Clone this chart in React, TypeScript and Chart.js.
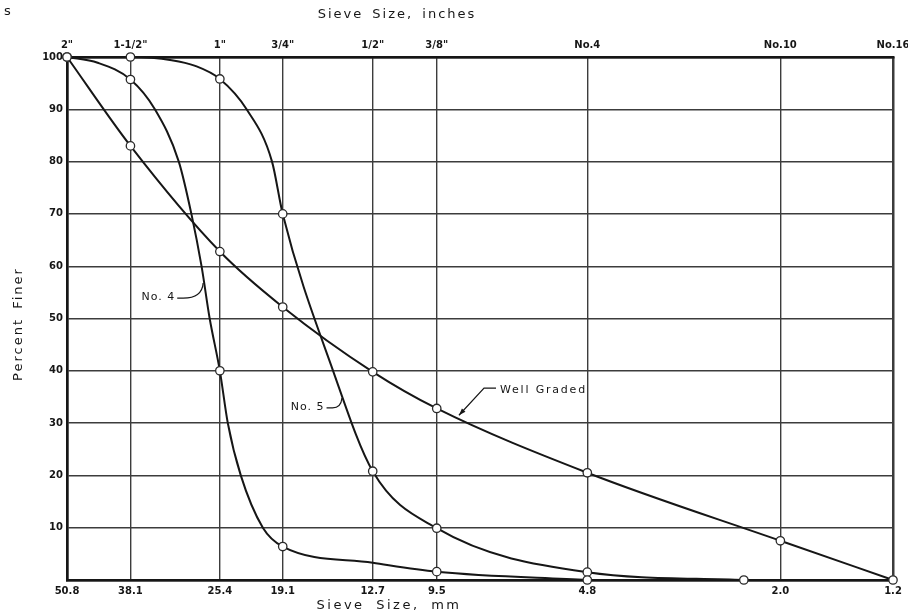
import React, { useEffect, useRef } from 'react';
import { Chart, registerables } from 'chart.js';

Chart.register(...registerables);

// Sieve openings (mm) that carry grid lines, with their two label sets
const sieveMm = [50.8, 38.1, 25.4, 19.1, 12.7, 9.5, 4.8, 2.0, 1.2];
const mmLabels = ['50.8', '38.1', '25.4', '19.1', '12.7', '9.5', '4.8', '2.0', '1.2'];
const inchLabels = ['2"', '1-1/2"', '1"', '3/4"', '1/2"', '3/8"', 'No.4', 'No.10', 'No.16'];
const percentMin = 0;
const percentMax = 100;
const percentStep = 10;

// Well Graded curve (all points measured)
const wellSize = [50.8, 38.1, 25.4, 19.1, 12.7, 9.5, 4.8, 2.0, 1.2];
const wellPct = [100, 83, 62.8, 52.2, 39.8, 32.8, 20.5, 7.5, 0];
const wellMeasured = [1, 1, 1, 1, 1, 1, 1, 1, 1];

const no4Size = [50.8, 44.2, 38.1, 34.1, 30.6, 28.9, 27.6, 26.6, 25.4, 24.5, 23.1, 20.9, 19.1, 12.7, 9.5, 4.8];
const no4Pct = [100, 98.9, 95.7, 90, 80, 70, 60, 50, 40, 30, 20, 10, 6.4, 3.3, 1.6, 0];
const no4Measured = [1, 0, 1, 0, 0, 0, 0, 0, 1, 0, 0, 0, 1, 0, 1, 1];

// No. 5 curve
const no5Size = [50.8, 38.1, 31.6, 28.4, 25.4, 22.5, 20.05, 19.1, 15.2, 12.7, 9.5, 4.8, 2.36];
const no5Pct = [100, 100, 99.4, 98.3, 95.8, 90, 80, 70, 40, 20.8, 9.9, 1.5, 0];
const no5Measured = [0, 1, 0, 0, 1, 0, 0, 1, 0, 1, 1, 1, 1];

// Curve labels: text anchor (size mm, percent) and the point on the curve the leader reaches
const noteText = ['No. 4', 'No. 5', 'Well Graded'];
const noteSize = [31.1, 15.8, 7.13];
const notePct = [54.1, 33.1, 36.3];
const noteToSize = [27.4, 14.6, 8.59];
const noteToPct = [56.8, 34.8, 31.5];
const noteSide = ['right', 'right', 'left'];

const FONT = '"DejaVu Sans", sans-serif';
const INK = '#161616';

function series(sizes: number[], pcts: number[], measured: number[]) {
  return {
    data: sizes.map((s, i) => ({ x: s, y: pcts[i] })),
    borderColor: INK,
    borderWidth: 2,
    backgroundColor: '#ffffff',
    pointBackgroundColor: '#ffffff',
    pointBorderColor: '#2a2a2a',
    pointBorderWidth: 1.3,
    pointRadius: measured.map((m) => (m ? 4.2 : 0)),
    pointHoverRadius: measured.map((m) => (m ? 4.2 : 0)),
    cubicInterpolationMode: 'monotone' as const,
    fill: false,
    clip: false as any,
  };
}

const textPlugin = {
  id: 'sieveText',
  afterDatasetsDraw(chart: any) {
    const { ctx } = chart;
    const x = chart.scales.x;
    const y = chart.scales.y;
    ctx.save();
    ctx.fillStyle = INK;
    ctx.strokeStyle = INK;
    ctx.lineWidth = 1.2;
    ctx.textBaseline = 'middle';
    noteText.forEach((t, i) => {
      const ax = x.getPixelForValue(noteSize[i]);
      const ay = y.getPixelForValue(notePct[i]);
      const ex = x.getPixelForValue(noteToSize[i]);
      const ey = y.getPixelForValue(noteToPct[i]);
      if (noteSide[i] === 'right') {
        ctx.font = `11px ${FONT}`;
        (ctx as any).letterSpacing = '1px';
        ctx.textAlign = 'right';
        ctx.fillText(t, ax, ay);
        const sx = ax + 2;
        ctx.beginPath();
        ctx.moveTo(sx, ay + 1);
        ctx.lineTo(sx + 6, ay + 1);
        ctx.quadraticCurveTo(ex - 1, ay + 1, ex, ey);
        ctx.stroke();
      } else {
        ctx.font = `11px ${FONT}`;
        (ctx as any).letterSpacing = '1.8px';
        ctx.textAlign = 'left';
        ctx.fillText(t, ax, ay);
        const sx = ax - 4;
        const ly = ay - 2;
        ctx.beginPath();
        ctx.moveTo(sx, ly);
        ctx.lineTo(sx - 12, ly);
        ctx.lineTo(ex, ey);
        ctx.stroke();
        const ang = Math.atan2(ey - ly, ex - (sx - 12));
        const len = 7;
        const hw = 2.4;
        ctx.beginPath();
        ctx.moveTo(ex, ey);
        ctx.lineTo(ex - len * Math.cos(ang) + hw * Math.sin(ang), ey - len * Math.sin(ang) - hw * Math.cos(ang));
        ctx.lineTo(ex - len * Math.cos(ang) - hw * Math.sin(ang), ey - len * Math.sin(ang) + hw * Math.cos(ang));
        ctx.closePath();
        ctx.fill();
      }
    });
    ctx.restore();
  },
  afterDraw(chart: any) {
    const { ctx } = chart;
    ctx.save();
    ctx.fillStyle = INK;
    ctx.textBaseline = 'middle';
    ctx.textAlign = 'center';
    ctx.font = `13px ${FONT}`;
    (ctx as any).letterSpacing = '2px';
    (ctx as any).wordSpacing = '3px';
    ctx.fillText('Sieve Size, inches', 397, 15);
    (ctx as any).letterSpacing = '2.5px';
    (ctx as any).wordSpacing = '5px';
    ctx.fillText('Sieve Size, mm', 389, 606);
    (ctx as any).letterSpacing = '2px';
    (ctx as any).wordSpacing = '3px';
    ctx.save();
    ctx.translate(19, 324);
    ctx.rotate(-Math.PI / 2);
    ctx.fillText('Percent Finer', 0, 0);
    ctx.restore();
    (ctx as any).letterSpacing = '0px';
    ctx.textAlign = 'left';
    ctx.fillText('s', 4, 12);
    ctx.restore();
  },
};

const tickFont = { family: FONT, size: 10, weight: 'bold' as const };

function sieveAxis(position: 'top' | 'bottom', labels: string[], height: number, showGrid: boolean) {
  return {
    type: 'logarithmic' as const,
    position,
    reverse: true,
    min: sieveMm[sieveMm.length - 1],
    max: sieveMm[0],
    afterBuildTicks(scale: any) {
      scale.ticks = sieveMm.map((v) => ({ value: v }));
    },
    afterFit(scale: any) {
      scale.height = height;
      scale.paddingLeft = 0;
      scale.paddingRight = 0;
    },
    ticks: {
      autoSkip: false,
      maxRotation: 0,
      minRotation: 0,
      padding: position === 'top' ? 6 : 5,
      color: INK,
      font: tickFont,
      callback: (_v: any, i: number) => labels[i],
    },
    grid: {
      display: showGrid,
      drawTicks: false,
      color: '#3c3c3c',
      lineWidth: (c: any) => (c.index === 0 || c.index === sieveMm.length - 1 ? 2.5 : 1.4),
    },
    border: { display: true, color: INK, width: 2.5 },
  };
}

export default function App() {
  const ref = useRef<HTMLCanvasElement>(null);
  useEffect(() => {
    const chart = new Chart(ref.current as HTMLCanvasElement, {
      type: 'line',
      data: {
        datasets: [
          series(wellSize, wellPct, wellMeasured),
          series(no4Size, no4Pct, no4Measured),
          series(no5Size, no5Pct, no5Measured),
        ] as any,
      },
      options: {
        animation: false,
        responsive: false,
        devicePixelRatio: 1,
        events: [],
        layout: { padding: { left: 0, right: 15, top: 0, bottom: 0 } },
        plugins: { legend: { display: false }, tooltip: { enabled: false }, title: { display: false } },
        scales: {
          x: sieveAxis('bottom', mmLabels, 35, true) as any,
          xTop: sieveAxis('top', inchLabels, 57, false) as any,
          y: {
            type: 'linear',
            min: percentMin,
            max: percentMax,
            afterFit(scale: any) {
              scale.width = 67;
            },
            ticks: {
              stepSize: percentStep,
              padding: 4,
              color: INK,
              font: tickFont,
              callback: (v: any) => (v === percentMin ? '' : String(v)),
            },
            grid: {
              drawTicks: false,
              color: '#3c3c3c',
              lineWidth: (c: any) => (c.tick && (c.tick.value === percentMax || c.tick.value === percentMin) ? 2.5 : 1.4),
            },
            border: { display: true, color: INK, width: 2.5 },
          },
        },
      },
      plugins: [textPlugin],
    });
    return () => chart.destroy();
  }, []);
  return (
    <div style={{ position: 'fixed', left: 0, top: 0, width: 908, height: 615, background: '#fff' }}>
      <canvas ref={ref} width={908} height={615} />
    </div>
  );
}
